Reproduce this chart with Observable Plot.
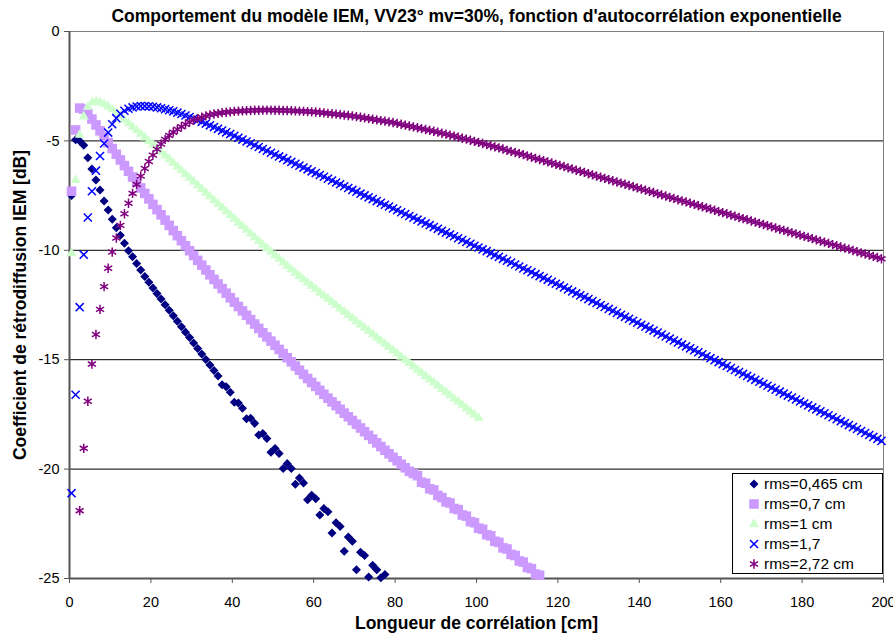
<!DOCTYPE html>
<html><head><meta charset="utf-8">
<script src="https://cdn.jsdelivr.net/npm/d3@7"></script>
<script src="https://cdn.jsdelivr.net/npm/@observablehq/plot@0.6"></script>
<style>
body{margin:0;background:#fff;}
#wrap{position:relative;width:893px;height:641px;font-family:"Liberation Sans",Arial,sans-serif;}
#wrap svg{display:block;}
#legend{position:absolute;left:732px;top:473px;width:149px;height:99px;border:1px solid #000;background:#fff;}
#legend .row{position:absolute;left:0;height:20px;width:149px;}
#legend .row svg{position:absolute;left:13px;top:2px;}
#legend .row span{position:absolute;left:31px;top:0;line-height:20px;font-size:15.5px;color:#000;white-space:nowrap;}
</style></head><body><div id="wrap"></div>
<script>
const title = "Comportement du modèle IEM, VV23° mv=30%, fonction d'autocorrélation exponentielle";
const xLabel = "Longueur de corrélation [cm]";
const yLabel = "Coefficient de rétrodiffusion IEM [dB]";
const xTicks = [0, 20, 40, 60, 80, 100, 120, 140, 160, 180, 200];
const yTicks = [0, -5, -10, -15, -20, -25];
const gridTicks = [-5, -10, -15, -20];
const seriesNames = ["rms=0,465 cm", "rms=0,7 cm", "rms=1 cm", "rms=1,7", "rms=2,72 cm"];
const seriesStart = [0.5, 0.5, 0.5, 0.5, 2.5];

const rms0465 = [-7.5,-4.95,-5.0,-5.2,-5.77,-6.28,-6.79,-7.24,-7.75,-8.16,-8.58,-8.97,-9.31,-9.68,-10.02,-10.29,-10.6,-10.9,-11.2,-11.46,-11.72,-11.98,-12.23,-12.49,-12.74,-12.99,-13.24,-13.49,-13.74,-13.99,-14.24,-14.49,-14.74,-14.99,-15.24,-15.49,-15.74,-16.14,-16.24,-16.49,-16.94,-16.98,-17.22,-17.7,-17.68,-17.91,-18.44,-18.37,-18.6,-19.23,-19.06,-19.29,-19.97,-19.75,-19.97,-20.69,-20.41,-20.63,-21.4,-21.2,-21.35,-22.1,-21.8,-21.95,-22.92,-22.45,-22.62,-23.75,-23.1,-23.3,-24.6,-23.8,-23.95,-24.93,-24.4,-24.6,-24.97,-24.82];

const rms07 = [-7.3,-4.5,-3.5,-3.55,-3.75,-4.0,-4.27,-4.54,-4.81,-5.08,-5.35,-5.61,-5.87,-6.13,-6.39,-6.65,-6.9,-7.15,-7.4,-7.65,-7.9,-8.14,-8.38,-8.62,-8.86,-9.1,-9.33,-9.56,-9.79,-10.02,-10.24,-10.46,-10.68,-10.9,-11.12,-11.33,-11.54,-11.75,-11.96,-12.17,-12.37,-12.57,-12.77,-12.97,-13.17,-13.37,-13.57,-13.77,-13.96,-14.15,-14.34,-14.53,-14.72,-14.91,-15.1,-15.29,-15.48,-15.67,-15.86,-16.04,-16.22,-16.4,-16.58,-16.76,-16.93,-17.1,-17.27,-17.44,-17.61,-17.78,-17.95,-18.12,-18.29,-18.46,-18.63,-18.8,-18.97,-19.14,-19.3,-19.46,-19.62,-19.78,-19.94,-20.1,-20.2,-20.3,-20.6,-20.65,-20.9,-20.95,-21.2,-21.3,-21.5,-21.55,-21.8,-21.85,-22.1,-22.15,-22.4,-22.45,-22.7,-22.75,-23.0,-23.05,-23.3,-23.35,-23.6,-23.65,-23.9,-23.95,-24.2,-24.25,-24.5,-24.55,-24.8,-24.85];

const rms1 = [-10.14,-6.79,-4.73,-3.89,-3.45,-3.25,-3.2,-3.24,-3.32,-3.43,-3.56,-3.71,-3.87,-4.03,-4.2,-4.36,-4.52,-4.68,-4.85,-5.01,-5.17,-5.34,-5.5,-5.67,-5.84,-6.01,-6.18,-6.35,-6.52,-6.69,-6.86,-7.03,-7.2,-7.37,-7.54,-7.71,-7.88,-8.05,-8.22,-8.39,-8.56,-8.73,-8.9,-9.07,-9.24,-9.41,-9.58,-9.75,-9.91,-10.07,-10.23,-10.39,-10.55,-10.71,-10.87,-11.03,-11.18,-11.33,-11.48,-11.63,-11.78,-11.93,-12.07,-12.22,-12.37,-12.51,-12.66,-12.81,-12.96,-13.1,-13.25,-13.4,-13.54,-13.69,-13.84,-13.99,-14.13,-14.28,-14.43,-14.57,-14.72,-14.87,-15.01,-15.16,-15.31,-15.46,-15.6,-15.75,-15.9,-16.04,-16.19,-16.34,-16.48,-16.63,-16.78,-16.92,-17.07,-17.22,-17.37,-17.51,-17.66];

const rms17 = [-21.1,-16.6,-12.6,-10.2,-8.5,-7.3,-6.36,-5.69,-5.12,-4.62,-4.24,-3.96,-3.76,-3.62,-3.53,-3.47,-3.43,-3.41,-3.41,-3.42,-3.44,-3.47,-3.51,-3.55,-3.6,-3.65,-3.71,-3.77,-3.84,-3.91,-3.98,-4.05,-4.13,-4.21,-4.29,-4.37,-4.45,-4.53,-4.61,-4.69,-4.77,-4.86,-4.94,-5.03,-5.11,-5.2,-5.28,-5.37,-5.45,-5.54,-5.62,-5.71,-5.79,-5.88,-5.96,-6.05,-6.13,-6.22,-6.3,-6.39,-6.47,-6.56,-6.64,-6.73,-6.81,-6.9,-6.98,-7.07,-7.15,-7.24,-7.32,-7.41,-7.49,-7.58,-7.66,-7.75,-7.83,-7.92,-8.0,-8.09,-8.17,-8.26,-8.34,-8.43,-8.51,-8.6,-8.68,-8.77,-8.85,-8.94,-9.02,-9.11,-9.19,-9.28,-9.36,-9.45,-9.53,-9.62,-9.7,-9.79,-9.87,-9.96,-10.04,-10.13,-10.22,-10.3,-10.39,-10.48,-10.56,-10.65,-10.74,-10.83,-10.91,-11.0,-11.09,-11.18,-11.26,-11.35,-11.44,-11.53,-11.61,-11.7,-11.79,-11.88,-11.97,-12.06,-12.14,-12.23,-12.32,-12.41,-12.5,-12.59,-12.68,-12.77,-12.86,-12.95,-13.04,-13.13,-13.22,-13.31,-13.4,-13.49,-13.58,-13.67,-13.76,-13.85,-13.94,-14.03,-14.12,-14.21,-14.3,-14.39,-14.48,-14.57,-14.66,-14.75,-14.84,-14.93,-15.02,-15.11,-15.2,-15.29,-15.38,-15.47,-15.56,-15.65,-15.74,-15.83,-15.92,-16.01,-16.1,-16.19,-16.28,-16.37,-16.46,-16.55,-16.64,-16.73,-16.82,-16.91,-17.0,-17.09,-17.18,-17.27,-17.36,-17.45,-17.54,-17.63,-17.72,-17.81,-17.9,-17.99,-18.08,-18.17,-18.26,-18.35,-18.44,-18.53,-18.62,-18.71];

const rms272 = [-21.9,-19.05,-16.9,-15.2,-13.85,-12.7,-11.66,-10.82,-10.08,-9.44,-8.86,-8.33,-7.85,-7.4,-6.99,-6.61,-6.26,-5.94,-5.65,-5.38,-5.14,-4.93,-4.75,-4.6,-4.47,-4.35,-4.24,-4.14,-4.05,-3.98,-3.92,-3.86,-3.81,-3.77,-3.74,-3.71,-3.69,-3.67,-3.65,-3.64,-3.63,-3.62,-3.61,-3.6,-3.6,-3.59,-3.59,-3.59,-3.6,-3.6,-3.61,-3.61,-3.62,-3.63,-3.64,-3.65,-3.66,-3.67,-3.68,-3.7,-3.72,-3.74,-3.76,-3.78,-3.8,-3.82,-3.84,-3.86,-3.89,-3.92,-3.95,-3.98,-4.01,-4.04,-4.07,-4.1,-4.13,-4.16,-4.2,-4.24,-4.28,-4.32,-4.36,-4.4,-4.44,-4.48,-4.52,-4.56,-4.6,-4.65,-4.69,-4.74,-4.78,-4.83,-4.88,-4.92,-4.97,-5.02,-5.07,-5.12,-5.17,-5.22,-5.27,-5.32,-5.37,-5.43,-5.48,-5.53,-5.58,-5.63,-5.69,-5.74,-5.8,-5.85,-5.9,-5.96,-6.01,-6.07,-6.12,-6.17,-6.23,-6.28,-6.34,-6.39,-6.44,-6.5,-6.55,-6.61,-6.66,-6.71,-6.77,-6.82,-6.88,-6.93,-6.98,-7.04,-7.09,-7.15,-7.2,-7.25,-7.31,-7.36,-7.42,-7.47,-7.52,-7.58,-7.63,-7.69,-7.74,-7.79,-7.85,-7.9,-7.96,-8.01,-8.06,-8.12,-8.17,-8.23,-8.28,-8.33,-8.39,-8.44,-8.5,-8.55,-8.6,-8.66,-8.71,-8.77,-8.82,-8.87,-8.93,-8.98,-9.04,-9.09,-9.14,-9.2,-9.25,-9.31,-9.36,-9.41,-9.47,-9.52,-9.58,-9.63,-9.68,-9.74,-9.79,-9.85,-9.9,-9.95,-10.01,-10.06,-10.12,-10.17,-10.22,-10.28,-10.33,-10.39];

const seriesValues = [rms0465, rms07, rms1, rms17, rms272];

// marker styles
const diamondSym = {draw(ctx, size){const h=Math.sqrt(size/2);ctx.moveTo(0,-h);ctx.lineTo(h,0);ctx.lineTo(0,h);ctx.lineTo(-h,0);ctx.closePath();}};
const styles = [
  {symbol: diamondSym, r: 3.6, fill: "#000080", stroke: "none"},
  {symbol: d3.symbolSquare, r: 5.4, fill: "#CC99FF", stroke: "none"},
  {symbol: d3.symbolTriangle, r: 3.7, fill: "#CCFFCC", stroke: "none"},
  {symbol: d3.symbolTimes, r: 3.75, fill: "none", stroke: "#0000FF", strokeWidth: 1.5},
  {symbol: d3.symbolAsterisk, r: 4.4, fill: "none", stroke: "#800080", strokeWidth: 1.5}
];

const tables = seriesValues.map((vals, s) => vals.map((v, i) => ({x: seriesStart[s] + i, y: v, series: seriesNames[s]})));

const dotMarks = tables.map((t, s) => Plot.dot(t, {x: "x", y: "y", ...styles[s]}));

const chart = Plot.plot({
  width: 893, height: 641,
  marginLeft: 69, marginRight: 10, marginTop: 31, marginBottom: 63,
  x: {domain: [0, 200]},
  y: {domain: [-25, 0]},
  style: {fontFamily: '"Liberation Sans", Arial, sans-serif', fontSize: "14.5px", color: "#000", background: "#fff", overflow: "visible"},
  marks: [
    Plot.frame({stroke: "#808080", strokeWidth: 1}),
    Plot.gridY({ticks: gridTicks, stroke: "#000", strokeOpacity: 1, strokeWidth: 1}),
    Plot.ruleX([0], {stroke: "#555", strokeWidth: 2}),
    Plot.ruleY([-25], {stroke: "#555", strokeWidth: 2}),
    Plot.axisY({ticks: yTicks, tickSize: 5, tickPadding: 5, tickFormat: d => String(d), label: null, stroke: "#555", fill: "#000", fontSize: 14.5}),
    Plot.axisX({ticks: xTicks, tickSize: 5, tickPadding: 13, tickFormat: d => String(d), label: null, stroke: "#555", fill: "#000", fontSize: 14.5}),
    ...dotMarks,
    Plot.text([title], {text: d => d, frameAnchor: "top", lineAnchor: "bottom", dy: -9.5, fontWeight: "bold", fontSize: 17.5, fill: "#000"}),
    Plot.text([xLabel], {text: d => d, frameAnchor: "bottom", lineAnchor: "bottom", dy: 50, fontWeight: "bold", fontSize: 17.5, fill: "#000"}),
    Plot.text([yLabel], {text: d => d, frameAnchor: "left", textAnchor: "middle", lineAnchor: "bottom", rotate: -90, dx: -44, fontWeight: "bold", fontSize: 17.5, fill: "#000"})
  ]
});

const wrap = document.getElementById("wrap");
wrap.appendChild(chart);

// legend
const legend = document.createElement("div");
legend.id = "legend";
seriesNames.forEach((name, s) => {
  const row = document.createElement("div");
  row.className = "row";
  row.style.top = (s * 20) + "px";
  const st = styles[s];
  const size = Math.PI * st.r * st.r;
  const svg = d3.create("svg").attr("width", 16).attr("height", 16);
  svg.append("path")
    .attr("transform", "translate(8,8)")
    .attr("d", d3.symbol(st.symbol, size)())
    .attr("fill", st.fill)
    .attr("stroke", st.stroke)
    .attr("stroke-width", st.strokeWidth || null);
  row.appendChild(svg.node());
  const span = document.createElement("span");
  span.textContent = name;
  row.appendChild(span);
  legend.appendChild(row);
});
wrap.appendChild(legend);
</script>
</body></html>
